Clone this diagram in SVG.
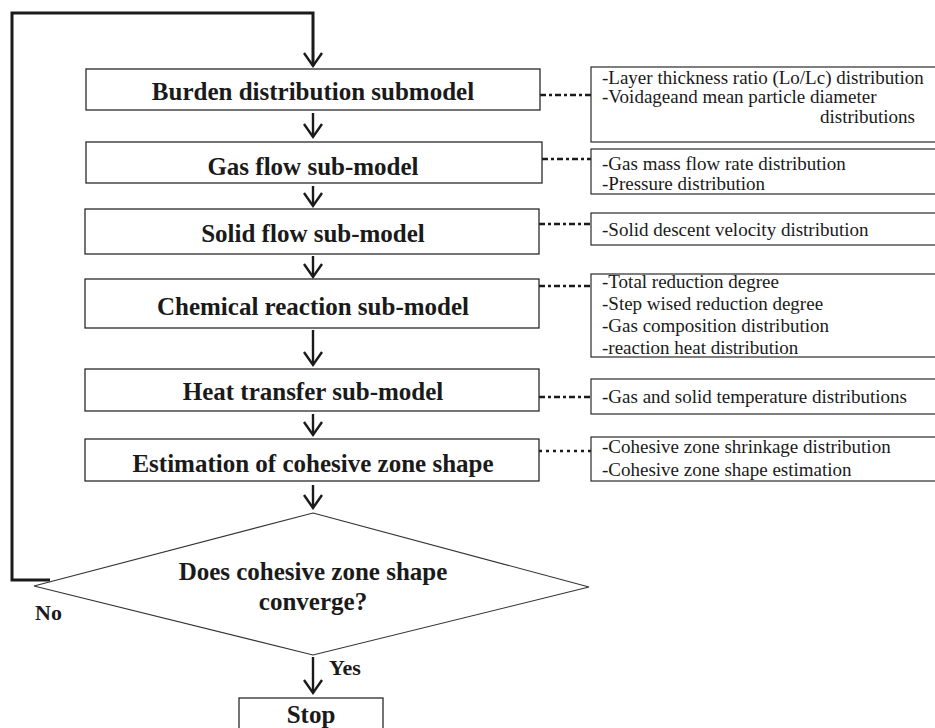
<svg xmlns="http://www.w3.org/2000/svg" width="935" height="728" viewBox="0 0 935 728">
<style>
.box{fill:#fff;stroke:#2a2a2a;stroke-width:1.3}
.note{fill:#fff;stroke:#2a2a2a;stroke-width:1.2}
.t{font-family:"Liberation Serif","Times New Roman",serif;font-weight:bold;font-size:25px;fill:#1a1a1a;text-anchor:middle}
.n{font-family:"Liberation Serif","Times New Roman",serif;font-size:19px;fill:#1a1a1a}
.lbl{font-family:"Liberation Serif","Times New Roman",serif;font-weight:bold;font-size:22px;fill:#1a1a1a}
.flow{fill:none;stroke:#1a1a1a;stroke-width:2.4}
.head{fill:none;stroke:#1a1a1a;stroke-width:2.4;stroke-linejoin:miter}
.dash{fill:none;stroke:#1a1a1a;stroke-width:2.6;stroke-dasharray:6 3 3 3}
.dot{fill:none;stroke:#1a1a1a;stroke-width:2.6;stroke-dasharray:3 4}
</style>
<rect width="935" height="728" fill="#fff"/>
<g id="connectors">
<path class="flow" d="M313 66 L313 13 L12 13 L12 580 L50 580" style="stroke-width:3"/>
<path class="head" d="M304 53 L313 66 L322 53"/>
<path class="flow" d="M313 113 L313 137"/><path class="head" d="M304 124 L313 137 L322 124"/>
<path class="flow" d="M313 186 L313 206"/><path class="head" d="M304 193 L313 206 L322 193"/>
<path class="flow" d="M313 256 L313 277"/><path class="head" d="M304 264 L313 277 L322 264"/>
<path class="flow" d="M313 330 L313 365"/><path class="head" d="M304 352 L313 365 L322 352"/>
<path class="flow" d="M313 414 L313 435"/><path class="head" d="M304 422 L313 435 L322 422"/>
<path class="flow" d="M313 485 L313 508"/><path class="head" d="M304 495 L313 508 L322 495"/>
<path class="flow" d="M313 657 L313 693"/><path class="head" d="M304 680 L313 693 L322 680"/>
<path class="dash" d="M540 95 L591 95"/>
<path class="dash" d="M542 159 L591 159"/>
<path class="dash" d="M539 224 L591 224"/>
<path class="dash" d="M539 286 L591 286"/>
<path class="dash" d="M539 397 L591 397"/>
<path class="dot" d="M539 451 L591 451"/>
</g>
<g id="burden"><rect class="box" x="86" y="69" width="454" height="41"/><text class="t" x="313" y="100">Burden distribution submodel</text></g>
<g id="gasflow"><rect class="box" x="86" y="142" width="456" height="41"/><text class="t" x="313" y="175">Gas flow sub-model</text></g>
<g id="solidflow"><rect class="box" x="85" y="209" width="454" height="45"/><text class="t" x="313" y="242">Solid flow sub-model</text></g>
<g id="chemical"><rect class="box" x="85" y="279" width="454" height="49"/><text class="t" x="313" y="315">Chemical reaction sub-model</text></g>
<g id="heat"><rect class="box" x="85" y="369" width="454" height="42"/><text class="t" x="313" y="400">Heat transfer sub-model</text></g>
<g id="cohesive"><rect class="box" x="85" y="439" width="454" height="42"/><text class="t" x="313" y="472">Estimation of cohesive zone shape</text></g>
<g id="decision"><polygon points="313,513 589,587 313,655 34,586" fill="#fff" stroke="#333" stroke-width="1.1"/><text class="t" x="313" y="580">Does cohesive zone shape</text><text class="t" x="313" y="610">converge?</text></g>
<g id="labels"><text class="lbl" x="35" y="620">No</text><text class="lbl" x="329" y="675">Yes</text></g>
<g id="stop"><rect class="box" x="239" y="698" width="144" height="40"/><text class="t" x="311" y="723">Stop</text></g>
<g id="noteA"><rect class="note" x="591" y="67" width="360" height="75"/><text class="n" x="602" y="84">-Layer thickness ratio (Lo/Lc) distribution</text><text class="n" x="602" y="103">-Voidageand mean particle diameter</text><text class="n" x="820" y="123">distributions</text></g>
<g id="noteB"><rect class="note" x="591" y="149" width="360" height="45"/><text class="n" x="602" y="170">-Gas mass flow rate distribution</text><text class="n" x="602" y="190">-Pressure distribution</text></g>
<g id="noteC"><rect class="note" x="591" y="213" width="360" height="32"/><text class="n" x="602" y="236">-Solid descent velocity distribution</text></g>
<g id="noteD"><rect class="note" x="591" y="274" width="360" height="83"/><text class="n" x="602" y="288">-Total reduction degree</text><text class="n" x="602" y="310">-Step wised reduction degree</text><text class="n" x="602" y="332">-Gas composition distribution</text><text class="n" x="602" y="354">-reaction heat distribution</text></g>
<g id="noteE"><rect class="note" x="591" y="379" width="360" height="35"/><text class="n" x="602" y="403">-Gas and solid temperature distributions</text></g>
<g id="noteF"><rect class="note" x="591" y="437" width="360" height="44"/><text class="n" x="602" y="453">-Cohesive zone shrinkage distribution</text><text class="n" x="602" y="476">-Cohesive zone shape estimation</text></g>
</svg>
